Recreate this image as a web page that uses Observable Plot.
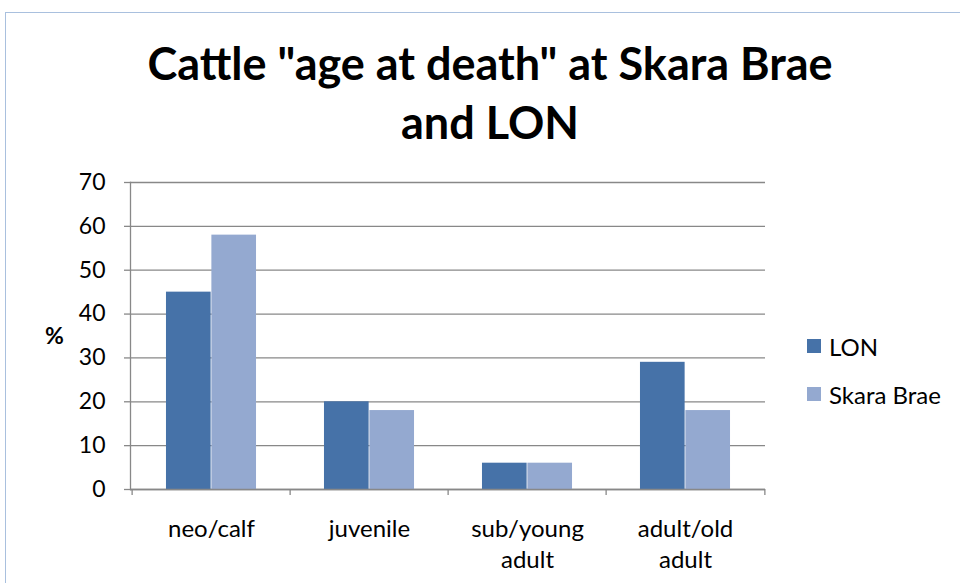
<!DOCTYPE html>
<html><head><meta charset="utf-8">
<script src="https://cdn.jsdelivr.net/npm/d3@7"></script>
<script src="https://cdn.jsdelivr.net/npm/@observablehq/plot@0.6"></script>
<style>
body{margin:0;background:#fff;font-family:Lato,"Open Sans",sans-serif;}
#wrap{position:relative;width:960px;height:583px;overflow:hidden;background:#fff;}
#border{position:absolute;left:5px;top:12px;width:1000px;height:1000px;border:1.5px solid #a9c0de;box-sizing:border-box;pointer-events:none;}
#title{position:relative;margin:0;padding:34px 0 0 20px;height:118px;box-sizing:content-box;text-align:center;font-size:45px;line-height:59px;font-weight:bold;color:#000;}
#chart{position:relative;}
#ylab{position:absolute;left:45px;top:321px;font-size:23px;font-weight:bold;color:#000;}
.leg{position:absolute;left:807px;font-size:24px;color:#000;display:flex;align-items:center;height:28px;}
.sw{width:14px;height:14px;margin-right:8px;display:inline-block;}
</style>
</head><body>
<div id="wrap">
  <div id="border"></div>
  <div id="title">Cattle "age at death" at Skara Brae<br>and LON</div>
  <div id="chart"></div>
  <div id="ylab">%</div>
  <div id="legend"></div>
</div>
<script>
const categories = ["neo/calf", "juvenile", "sub/young adult", "adult/old adult"];
const categoryLabels = ["neo/calf", "juvenile", "sub/young\nadult", "adult/old\nadult"];
const series = ["LON", "Skara Brae"];
const lonValues = [45, 20, 6, 29];
const skaraValues = [58, 18, 6, 18];
const yTicks = [0, 10, 20, 30, 40, 50, 60, 70];
const colors = ["#4672a8", "#94a9d0"];

const lonData = categories.map((c, i) => ({category: c, series: "LON", value: lonValues[i]}));
const skaraData = categories.map((c, i) => ({category: c, series: "Skara Brae", value: skaraValues[i]}));

const W = 960, H = 431;
const mL = 130, mR = 195, mT = 30, mB = 94;
const band = (W - mL - mR) / categories.length;
const barW = 45.4;
const gap = (band - 2 * barW) / 2;

const plot = Plot.plot({
  width: W, height: H,
  marginLeft: mL, marginRight: mR, marginTop: mT, marginBottom: mB,
  style: {fontFamily: "Lato, 'Open Sans', sans-serif", fontSize: "24px", color: "#000", background: "transparent"},
  x: {domain: categories, padding: 0, axis: null},
  y: {domain: [0, 70], axis: null},
  marks: [
    Plot.gridY(yTicks, {stroke: "#888888", strokeOpacity: 1, strokeWidth: 1.3}),
    Plot.barY(lonData, {x: "category", y: "value", fill: colors[0], insetLeft: gap, insetRight: gap + barW}),
    Plot.barY(skaraData, {x: "category", y: "value", fill: colors[1], insetLeft: gap + barW, insetRight: gap}),
    Plot.ruleY([0], {stroke: "#888888", strokeWidth: 1.3}),
    Plot.frame({anchor: "left", stroke: "#888888", strokeWidth: 1.3}),
    Plot.ruleX(categories, {x: d => d, y1: 0, y2: 0, insetTop: 6, dx: -band / 2, stroke: "#888888", strokeWidth: 1.3}),
    Plot.ruleX(categories.slice(-1), {x: d => d, y1: 0, y2: 0, insetTop: 6, dx: band / 2, stroke: "#888888", strokeWidth: 1.3}),
    Plot.axisY(yTicks, {tickSize: 6, tickPadding: 19, stroke: "#888888", strokeWidth: 1.3, fill: "#000", fontSize: 23, label: null, tickFormat: d => String(d)}),
    Plot.axisX({tickSize: 0, tickPadding: 25, fill: "#000", fontSize: 24, lineHeight: 1.3, label: null,
      tickFormat: d => categoryLabels[categories.indexOf(d)]})
  ]
});
document.getElementById("chart").appendChild(plot);

const legend = document.getElementById("legend");
const legendTops = [332, 380];
series.forEach((s, i) => {
  const el = document.createElement("div");
  el.className = "leg";
  el.style.top = legendTops[i] + "px";
  el.innerHTML = `<span class="sw" style="background:${colors[i]}"></span><span>${s}</span>`;
  legend.appendChild(el);
});
</script>
</body></html>
